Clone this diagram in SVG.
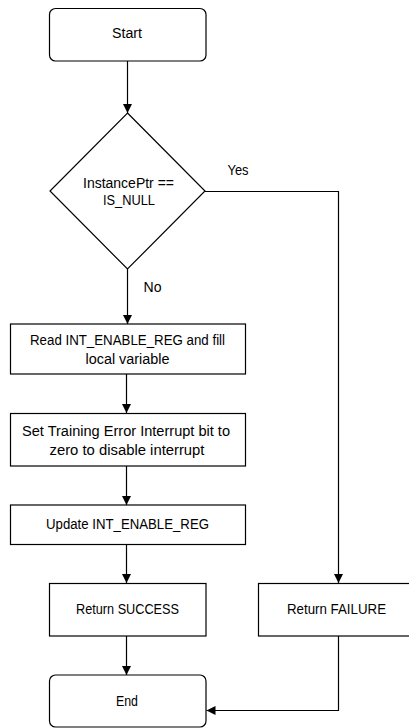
<svg xmlns="http://www.w3.org/2000/svg" width="409" height="728" viewBox="0 0 409 728">
<style>
.box{fill:#fff;stroke:#000;stroke-width:1.2}
.t{font-family:"Liberation Sans",Arial,sans-serif;font-size:14px;fill:#000;text-anchor:middle}
.c{fill:none;stroke:#000;stroke-width:1.2}
</style>
<defs>
<marker id="a" markerWidth="10" markerHeight="10" refX="9" refY="5" orient="auto" markerUnits="userSpaceOnUse">
<path d="M0,0.5 L9,5 L0,9.5 Z" fill="#000"/>
</marker>
</defs>
<rect width="409" height="728" fill="#fff"/>
<g id="start"><rect class="box" x="49.5" y="8.5" width="156.5" height="52.5" rx="6"/><text class="t" x="127" y="38" textLength="30" lengthAdjust="spacingAndGlyphs">Start</text></g>
<g id="decision"><polygon class="box" points="127.5,113 205,191 127.5,269 50,191"/><text class="t" x="128.5" y="188" textLength="91" lengthAdjust="spacingAndGlyphs">InstancePtr ==</text><text class="t" x="129" y="205" textLength="52" lengthAdjust="spacingAndGlyphs">IS_NULL</text></g>
<g id="read"><rect class="box" x="10.5" y="324" width="235" height="50"/><text class="t" x="127.5" y="345" textLength="195" lengthAdjust="spacingAndGlyphs">Read INT_ENABLE_REG and fill</text><text class="t" x="127.5" y="364" textLength="84" lengthAdjust="spacingAndGlyphs">local variable</text></g>
<g id="set"><rect class="box" x="10.5" y="413.5" width="235" height="52.5"/><text class="t" x="126" y="436" textLength="208" lengthAdjust="spacingAndGlyphs">Set Training Error Interrupt bit to</text><text class="t" x="127" y="455" textLength="155" lengthAdjust="spacingAndGlyphs">zero to disable interrupt</text></g>
<g id="update"><rect class="box" x="10.5" y="505" width="235" height="39.5"/><text class="t" x="127.5" y="528.5" textLength="163" lengthAdjust="spacingAndGlyphs">Update INT_ENABLE_REG</text></g>
<g id="success"><rect class="box" x="49.5" y="583.5" width="156.5" height="52.5"/><text class="t" x="127.5" y="614" textLength="103" lengthAdjust="spacingAndGlyphs">Return SUCCESS</text></g>
<g id="failure"><rect class="box" x="258.5" y="583.5" width="152" height="52.5"/><text class="t" x="336.5" y="614" textLength="99" lengthAdjust="spacingAndGlyphs">Return FAILURE</text></g>
<g id="end"><rect class="box" x="49.5" y="675" width="156.5" height="52" rx="6"/><text class="t" x="127" y="706" textLength="22" lengthAdjust="spacingAndGlyphs">End</text></g>
<g id="connectors">
<line class="c" x1="127.5" y1="61" x2="127.5" y2="113" marker-end="url(#a)"/>
<line class="c" x1="127.5" y1="269" x2="127.5" y2="324" marker-end="url(#a)"/>
<line class="c" x1="126.5" y1="374" x2="126.5" y2="413" marker-end="url(#a)"/>
<line class="c" x1="126.5" y1="466" x2="126.5" y2="505" marker-end="url(#a)"/>
<line class="c" x1="126.5" y1="544.5" x2="126.5" y2="583" marker-end="url(#a)"/>
<line class="c" x1="126.5" y1="636" x2="126.5" y2="675" marker-end="url(#a)"/>
<polyline class="c" points="205,191.5 338.5,191.5 338.5,583" marker-end="url(#a)"/>
<polyline class="c" points="338.5,636 338.5,710.5 206.5,710.5" marker-end="url(#a)"/>
<text class="t" x="238" y="175" textLength="21" lengthAdjust="spacingAndGlyphs">Yes</text>
<text class="t" x="152.5" y="292" textLength="18" lengthAdjust="spacingAndGlyphs">No</text>
</g>
</svg>
